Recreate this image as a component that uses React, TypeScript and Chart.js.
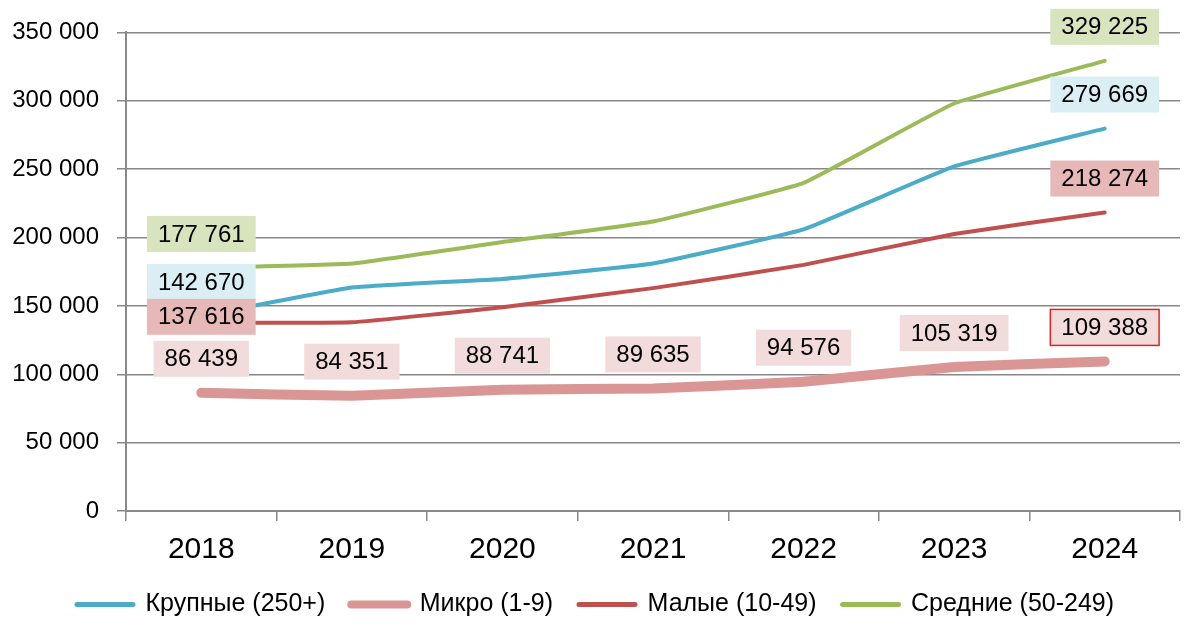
import React, { useEffect, useRef } from "react";
import { Chart, registerables } from "chart.js";

Chart.register(...registerables);

const years = ["2018", "2019", "2020", "2021", "2022", "2023", "2024"];
const seriesNames = ["Крупные (250+)", "Микро (1-9)", "Малые (10-49)", "Средние (50-249)"];
const largeValues = [142670, 163400, 169700, 181000, 206000, 252000, 279669];
const microValues = [86439, 84351, 88741, 89635, 94576, 105319, 109388];
const smallValues = [137616, 138000, 149000, 163000, 180000, 202600, 218274];
const mediumValues = [177761, 181000, 196700, 211700, 240000, 298000, 329225];
const yMin = 0;
const yMax = 350000;
const yStep = 50000;

// which points get a value label
const largeLabelIdx = [0, 6];
const microLabelIdx = [0, 1, 2, 3, 4, 5, 6];
const smallLabelIdx = [0, 6];
const mediumLabelIdx = [0, 6];

const FONT = "'Liberation Sans', Arial, sans-serif";

const fmt = (v: number) =>
  Math.round(v)
    .toString()
    .replace(/\B(?=(\d{3})+(?!\d))/g, " ");

const valueLabelPlugin = {
  id: "valueLabels",
  afterDatasetsDraw(chart: any) {
    const ctx = chart.ctx;
    ctx.save();
    ctx.font = `24px ${FONT}`;
    ctx.textAlign = "center";
    ctx.textBaseline = "middle";
    chart.data.datasets.forEach((ds: any, di: number) => {
      const cfg = ds.valueLabels;
      if (!cfg) return;
      const meta = chart.getDatasetMeta(di);
      cfg.indices.forEach((i: number) => {
        const pt = meta.data[i];
        if (!pt) return;
        const text = fmt(ds.data[i]);
        const w = ctx.measureText(text).width + 22;
        const h = 36;
        const dy = cfg.dy && cfg.dy[i] !== undefined ? cfg.dy[i] : -34;
        const cx = pt.x;
        const cy = pt.y + dy;
        ctx.fillStyle = cfg.bg;
        ctx.fillRect(cx - w / 2, cy - h / 2, w, h);
        if (cfg.borderIdx && cfg.borderIdx.includes(i)) {
          ctx.strokeStyle = "#e02424";
          ctx.lineWidth = 1.5;
          ctx.strokeRect(cx - w / 2, cy - h / 2, w, h);
        }
        ctx.fillStyle = "#000";
        ctx.fillText(text, cx, cy + 1);
      });
    });
    ctx.restore();
  },
};

export default function App() {
  const ref = useRef<HTMLCanvasElement | null>(null);

  useEffect(() => {
    document.body.style.margin = "0";
    const canvas = ref.current;
    if (!canvas) return;
    const chart = new Chart(canvas, {
      type: "line",
      data: {
        labels: years,
        datasets: [
          {
            label: seriesNames[0],
            data: largeValues,
            borderColor: "#4aacc6",
            backgroundColor: "#4aacc6",
            borderWidth: 4,
            valueLabels: { indices: largeLabelIdx, bg: "#dbeef4" },
          },
          {
            label: seriesNames[1],
            data: microValues,
            borderColor: "#d99694",
            backgroundColor: "#d99694",
            borderWidth: 10,
            valueLabels: { indices: microLabelIdx, bg: "#f2dcdb", borderIdx: [6] },
          },
          {
            label: seriesNames[2],
            data: smallValues,
            borderColor: "#c0504d",
            backgroundColor: "#c0504d",
            borderWidth: 4,
            valueLabels: { indices: smallLabelIdx, bg: "#e6b9b8", dy: { 0: -6 } },
          },
          {
            label: seriesNames[3],
            data: mediumValues,
            borderColor: "#9bbb59",
            backgroundColor: "#9bbb59",
            borderWidth: 4,
            valueLabels: { indices: mediumLabelIdx, bg: "#d7e4bd" },
          },
        ] as any,
      },
      options: {
        responsive: false,
        animation: false,
        layout: { padding: { top: 23, bottom: 9, left: 11, right: 20 } },
        elements: {
          point: { radius: 0, hoverRadius: 0 },
          line: { tension: 0.1, borderCapStyle: "round", borderJoinStyle: "round" },
        },
        plugins: {
          tooltip: { enabled: false },
          legend: {
            position: "bottom",
            labels: {
              usePointStyle: true,
              pointStyle: "line",
              pointStyleWidth: 56,
              padding: 26,
              color: "#000",
              font: { family: FONT, size: 25 },
              sort: (a: any, b: any) => a.datasetIndex - b.datasetIndex,
              generateLabels(chart: any) {
                const items = Chart.defaults.plugins.legend.labels.generateLabels(chart);
                return items.map((it: any) => ({
                  ...it,
                  pointStyle: "line",
                  lineWidth: it.datasetIndex === 1 ? 8 : 5,
                  lineCap: "round",
                }));
              },
            },
          },
        },
        scales: {
          x: {
            offset: true,
            grid: {
              offset: true,
              drawOnChartArea: false,
              drawTicks: true,
              tickLength: 10,
              color: "#888",
              lineWidth: 1.5,
            },
            border: { color: "#888", width: 2 },
            ticks: { color: "#000", font: { family: FONT, size: 30 }, padding: 11 },
            afterFit(scale: any) {
              scale.height = 55;
            },
          },
          y: {
            min: yMin,
            max: yMax,
            grid: { color: "#888", lineWidth: 1.5, tickLength: 9 },
            border: { color: "#888", width: 2 },
            ticks: {
              stepSize: yStep,
              color: "#000",
              font: { family: FONT, size: 24 },
              padding: 18,
              callback: (v: any) => fmt(Number(v)),
            },
            afterFit(scale: any) {
              scale.width = 115;
            },
          },
        },
      } as any,
      plugins: [valueLabelPlugin],
    });
    return () => chart.destroy();
  }, []);

  return (
    <div style={{ width: 1200, height: 636, background: "#fff" }}>
      <canvas ref={ref} width={1200} height={636} style={{ display: "block" }} />
    </div>
  );
}
